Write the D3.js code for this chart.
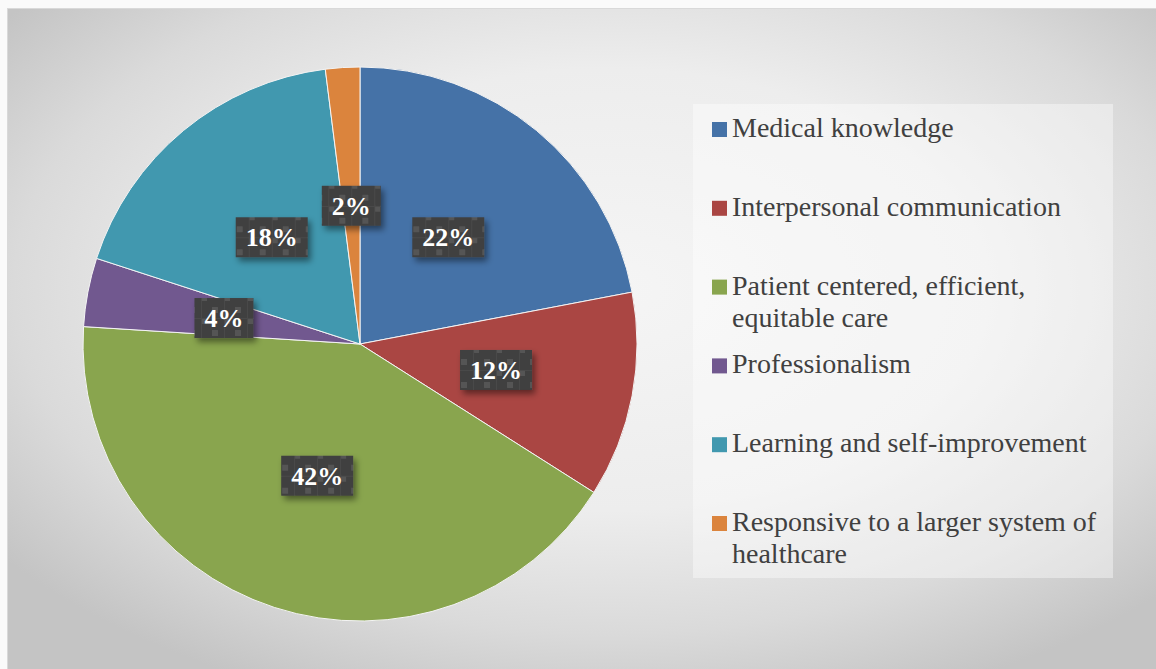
<!DOCTYPE html>
<html>
<head>
<meta charset="utf-8">
<script src="https://cdn.jsdelivr.net/npm/d3@7"></script>
<style>
    html, body { margin: 0; padding: 0; background: #fafafa; }
    svg { display: block; }
</style>
</head>
<body>
<svg id="chart" width="1156" height="669"></svg>
<script>
const categories = [
    'Medical knowledge',
    'Interpersonal communication',
    'Patient centered, efficient, equitable care',
    'Professionalism',
    'Learning and self-improvement',
    'Responsive to a larger system of healthcare'
]
const shares = [22, 12, 42, 4, 18, 2]
const sliceColors = ['#4572a7', '#aa4643', '#89a54e', '#71588f', '#4198af', '#db843d']
// legend text broken the way the original wraps it
const legendLines = [
    ['Medical knowledge'],
    ['Interpersonal communication'],
    ['Patient centered, efficient,', 'equitable care'],
    ['Professionalism'],
    ['Learning and self-improvement'],
    ['Responsive to a larger system of', 'healthcare']
]

const serif = "'Liberation Serif'"
const width = 1156
const height = 669
const svg = d3.select('#chart')
const defs = svg.append('defs')

const bg = defs.append('radialGradient')
    .attr('id', 'bg-grad')
    .attr('cx', 0.52).attr('cy', 0.42).attr('r', 0.66)
bg.selectAll('stop')
    .data([[0, '#f5f5f5'], [0.5, '#ededed'], [0.78, '#dadada'], [1, '#c4c4c4']])
    .join('stop')
    .attr('offset', d => d[0])
    .attr('stop-color', d => d[1])

// dark label boxes with the little grid texture
const pat = defs.append('pattern')
    .attr('id', 'label-pat')
    .attr('patternUnits', 'userSpaceOnUse')
    .attr('width', 23).attr('height', 23)
pat.append('rect').attr('width', 23).attr('height', 23).attr('fill', '#3f3f3f')
pat.append('rect').attr('x', 0).attr('y', 0).attr('width', 6).attr('height', 6).attr('fill', '#555')
pat.append('rect').attr('x', 11).attr('y', 12).attr('width', 6).attr('height', 6).attr('fill', '#555')
pat.append('rect').attr('x', 0).attr('y', 0).attr('width', 1).attr('height', 23).attr('fill', '#4a4a4a')
pat.append('rect').attr('x', 0).attr('y', 0).attr('width', 23).attr('height', 1).attr('fill', '#4a4a4a')

const shadow = defs.append('filter')
    .attr('id', 'shadow')
    .attr('x', '-30%').attr('y', '-30%').attr('width', '160%').attr('height', '180%')
shadow.append('feDropShadow')
    .attr('dx', 3).attr('dy', 4)
    .attr('stdDeviation', 3)
    .attr('flood-color', '#000')
    .attr('flood-opacity', 0.45)

svg.append('rect')
    .attr('x', 7.5).attr('y', 8.5)
    .attr('width', width).attr('height', height)
    .attr('fill', 'url(#bg-grad)')
    .attr('stroke', '#d9d9d9')

const cx = 360
const cy = 344
const radius = 277

const pie = d3.pie().sort(null).value(d => d)
const arcs = pie(shares)
const arc = d3.arc().innerRadius(0).outerRadius(radius)

const gPie = svg.append('g').attr('transform', `translate(${cx}, ${cy})`)

gPie.selectAll('path')
    .data(arcs)
    .join('path')
    .attr('d', arc)
    .attr('fill', (d, i) => sliceColors[i])
    .attr('stroke', '#f4f4f4')
    .attr('stroke-width', 1)

const gLabel = gPie.selectAll('g.label')
    .data(arcs)
    .join('g')
    .attr('class', 'label')
    .attr('transform', d => `translate(${arc.centroid(d)})`)

gLabel.append('rect')
    .attr('fill', 'url(#label-pat)')
    .attr('filter', 'url(#shadow)')

gLabel.append('text')
    .attr('text-anchor', 'middle')
    .attr('dy', '0.35em')
    .style('font-family', serif)
    .style('font-weight', 'bold')
    .style('font-size', '26px')
    .attr('fill', '#fff')
    .text(d => d.data + '%')

gLabel.each(function () {
    const g = d3.select(this)
    const w = g.select('text').node().getComputedTextLength() + 20
    g.select('rect')
        .attr('x', -w / 2).attr('y', -20)
        .attr('width', w).attr('height', 40)
})

// legend
svg.append('rect')
    .attr('x', 693).attr('y', 104)
    .attr('width', 420).attr('height', 474)
    .attr('fill', '#fff')
    .attr('fill-opacity', 0.4)

const legendStep = 78.8
const gLegend = svg.append('g')
    .selectAll('g')
    .data(categories)
    .join('g')
    .attr('transform', (d, i) => `translate(712, ${137 + i * legendStep})`)

gLegend.append('rect')
    .attr('x', 0).attr('y', -15)
    .attr('width', 15).attr('height', 15)
    .attr('fill', (d, i) => sliceColors[i])

gLegend.append('text')
    .attr('x', 20)
    .style('font-family', serif)
    .style('font-size', '28px')
    .attr('fill', '#404040')
    .selectAll('tspan')
    .data((d, i) => legendLines[i])
    .join('tspan')
    .attr('x', 20)
    .attr('dy', (d, j) => j === 0 ? 0 : 32)
    .text(d => d)
</script>
</body>
</html>
